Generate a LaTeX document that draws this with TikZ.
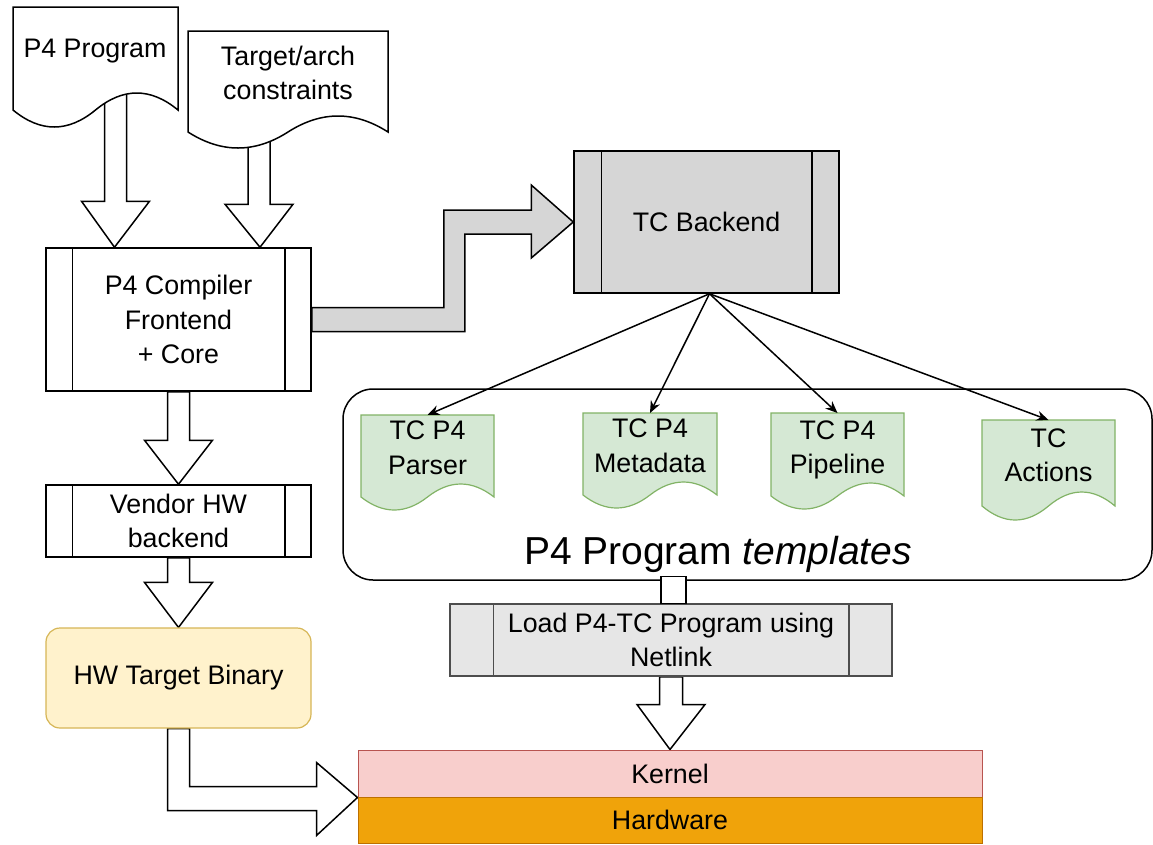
\documentclass[tikz,border=0pt]{standalone}
\usepackage{fontspec}
\setmainfont{Liberation Sans}
\usetikzlibrary{calc,arrows.meta}
\pgfdeclarelayer{bg}
\pgfsetlayers{bg,main}
\definecolor{tcgray}{HTML}{D6D6D6}
\definecolor{loadgray}{HTML}{E6E6E6}
\definecolor{loadline}{HTML}{4D4D4D}
\definecolor{docgreen}{HTML}{D5E8D4}
\definecolor{docgreenline}{HTML}{82B366}
\definecolor{binfill}{HTML}{FFF2CC}
\definecolor{binline}{HTML}{D6B656}
\definecolor{kernfill}{HTML}{F8CECC}
\definecolor{kernline}{HTML}{B85450}
\definecolor{hwfill}{HTML}{F0A30A}
\definecolor{hwline}{HTML}{BD7000}
% doc shape: name, x0, top, x1, end y, amplitude, style
\newcommand\docshape[7]{%
  \coordinate (#1-t) at ({(#2+#4)/2},#3);
  \coordinate (#1-b) at ({(#2+#4)/2},#5);
  \draw[#7] (#2,#3) -- (#4,#3) -- (#4,#5)
    .. controls +({-(#4-#2)/6},{-4*#6/3}) and +({(#4-#2)/6},{-4*#6/3}) .. ({(#2+#4)/2},#5)
    .. controls +({-(#4-#2)/6},{4*#6/3}) and +({(#4-#2)/6},{4*#6/3}) .. (#2,#5) -- cycle;
}
% inner bars of a process box
\newcommand\procbars[3]{%
  \draw[line width=1.5pt,#3] ([xshift=#2]#1.north west) -- ([xshift=#2]#1.south west);
  \draw[line width=1.5pt,#3] ([xshift=-#2]#1.north east) -- ([xshift=-#2]#1.south east);
}
% downward block arrow: start, tip, shaft half width, head half width, head length
\newcommand\flexdown[5]{%
  \draw[flexa] let \p1=(#1), \p2=(#2) in
    (\x1-#3,\y1) -- (\x1-#3,\y2+#5) -- (\x1-#4,\y2+#5) -- (\x2,\y2)
    -- (\x1+#4,\y2+#5) -- (\x1+#3,\y2+#5) -- (\x1+#3,\y1) -- cycle;
}
\begin{document}
\begin{tikzpicture}[x=1pt,y=-1pt,
  txt/.style={font=\fontsize{26.8}{34.5}\selectfont, align=center, inner sep=0pt, text=black},
  proc/.style={draw=black, line width=1.5pt, fill=white, inner sep=0pt, txt},
  flexa/.style={draw=black, line width=1.5pt, fill=white, line join=miter},
  fan/.style={line width=1.5pt, -{Stealth[length=12pt,width=10pt]}},
  docw/.style={draw=black, line width=1.5pt, fill=white},
  docg/.style={draw=docgreenline, line width=1.2pt, fill=docgreen},
]
\useasboundingbox (0,0) rectangle (1153,844);

% ---------- input documents ----------
\docshape{d1}{13}{7}{178}{110}{17}{docw}
\node[txt] (p4prog) at (95,51) {P4 Program};
\docshape{d2}{188}{31}{388}{132}{16}{docw}
\node[txt] (target) at (288,73) {Target/arch\\constraints};

% ---------- left column ----------
\node[proc, minimum width=265pt, minimum height=143pt] (comp) at (178.5,319.5) {P4 Compiler\\Frontend\\+ Core};
\procbars{comp}{27pt}{}
\node[proc, minimum width=265pt, minimum height=72pt] (vendor) at (178.5,521) {Vendor HW\\backend};
\procbars{vendor}{27pt}{}
\node[txt, draw=binline, fill=binfill, line width=1.2pt, rounded corners=14pt,
      minimum width=265pt, minimum height=100pt] (hwbin) at (178.5,678) {HW Target Binary};

% ---------- TC backend ----------
\node[proc, fill=tcgray, minimum width=265pt, minimum height=142pt] (tcb) at (706.5,222) {TC Backend};
\procbars{tcb}{28pt}{}

% ---------- templates container ----------
\node[draw=black, line width=1.5pt, fill=white, rounded corners=30pt,
      minimum width=809pt, minimum height=191pt, inner sep=0pt] (tmpl) at (747.5,484.5) {};
\node[font=\fontsize{39}{47}\selectfont, inner sep=0pt] (title) at (718,554) {P4 Program \textit{templates}};

\docshape{par}{361}{415}{494}{497}{13}{docg}
\node[txt] (partxt) at (427.5,448) {TC P4\\Parser};
\docshape{meta}{583}{413}{717}{495}{13}{docg}
\node[txt] (metatxt) at (650,446) {TC P4\\Metadata};
\docshape{pipe}{771}{413}{904}{496}{13}{docg}
\node[txt] (pipetxt) at (837.5,450) {TC P4\\Pipeline};
\docshape{act}{982}{420}{1115}{506}{14}{docg}
\node[txt] (acttxt) at (1048.5,455.5) {TC\\Actions};

% ---------- load / kernel / hardware ----------
\node[proc, fill=loadgray, draw=loadline, minimum width=442pt, minimum height=72pt] (load) at (671,640) {Load P4-TC Program using\\Netlink};
\procbars{load}{44pt}{loadline}
\draw[flexa] ([xshift=-10pt]load.north) rectangle ([xshift=15pt,yshift=27pt]load.north);

\node[txt, draw=kernline, fill=kernfill, line width=1pt, minimum width=624pt, minimum height=47pt] (kernel) at (670,773.5) {Kernel};
\node[txt, draw=hwline, fill=hwfill, line width=1pt, minimum width=624pt, minimum height=46pt] (hardware) at (670,820) {Hardware};

% ---------- fan arrows ----------
\coordinate (fanO) at ([xshift=3pt]tcb.south);
\draw[fan] (fanO) -- (par-t);
\draw[fan] (fanO) -- (meta-t);
\draw[fan] (fanO) -- (pipe-t);
\draw[fan] (fanO) -- (act-t);

% ---------- block arrows (background) ----------
\coordinate (a1s) at ([xshift=20pt,yshift=25pt]d1-b);
\coordinate (a1t) at ([xshift=-64pt]comp.north);
\coordinate (a2s) at ([xshift=-29pt,yshift=25pt]d2-b);
\coordinate (a2t) at ([xshift=81.5pt]comp.north);
\coordinate (bend1) at ([xshift=142.5pt]comp.east);
\begin{pgfonlayer}{bg}
  \flexdown{a1s}{a1t}{11pt}{34pt}{46pt}
  \flexdown{a2s}{a2t}{11pt}{34pt}{43pt}
  \flexdown{comp.south}{vendor.north}{11pt}{34pt}{44pt}
  \flexdown{vendor.south}{hwbin.north}{11pt}{34pt}{45pt}
  \flexdown{load.south}{kernel.north}{11.5pt}{34pt}{45pt}
  % compiler -> TC backend
  \draw[flexa, fill=tcgray] let \p1=(comp.east), \p2=(tcb.west), \p3=(bend1) in
    (\x1,\y1-12pt) -- (\x3+10.5pt,\y1-12pt) -- (\x3+10.5pt,\y2-12pt) -- (\x2-42pt,\y2-12pt)
    -- (\x2-42pt,\y2-36pt) -- (\x2,\y2) -- (\x2-42pt,\y2+37pt) -- (\x2-42pt,\y2+12pt)
    -- (\x3-10.5pt,\y2+12pt) -- (\x3-10.5pt,\y1+12pt) -- (\x1,\y1+12pt) -- cycle;
  % HW binary -> kernel/hardware
  \draw[flexa] let \p1=(hwbin.south), \p2=(kernel.south west) in
    (\x1-11pt,\y1) -- (\x1-11pt,\y2-13pt) -- (\x2-41pt,\y2-13pt) -- (\x2-41pt,\y2-38pt)
    -- (\x2,\y2) -- (\x2-41pt,\y2+35pt) -- (\x2-41pt,\y2+11pt) -- (\x1+11pt,\y2+11pt)
    -- (\x1+11pt,\y1) -- cycle;
\end{pgfonlayer}
\end{tikzpicture}
\end{document}
